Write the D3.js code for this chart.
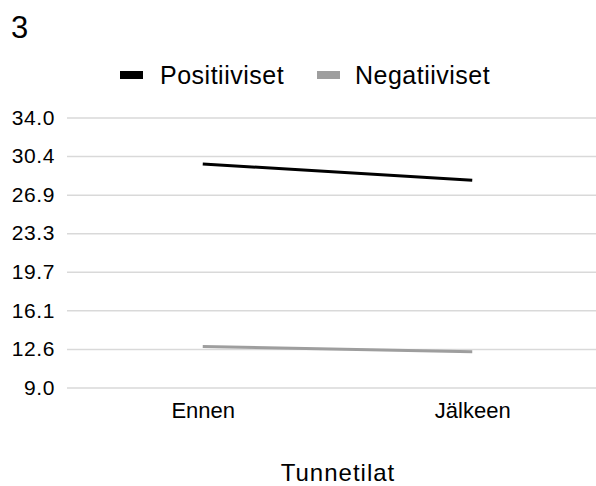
<!DOCTYPE html>
<html>
<head>
<meta charset="utf-8">
<script src="https://cdn.jsdelivr.net/npm/d3@7"></script>
<style>
  body { margin: 0; background: #fff; }
  text { font-family: "Liberation Sans", Arial, sans-serif; fill: #000; }
</style>
</head>
<body>
<svg width="596" height="486"></svg>
<script>
const categories = ['Ennen', 'Jälkeen'];
const seriesNames = ['Positiiviset', 'Negatiiviset'];
const positiiviset = [29.7, 28.2];
const negatiiviset = [12.8, 12.3];
const yTickValues = [9.0, 12.6, 16.1, 19.7, 23.3, 26.9, 30.4, 34.0];
const colors = ['#000000', '#9e9e9e'];

function whenLoaded(){
    const svg = d3.select('svg');
    const width = +svg.attr('width');
    const height = +svg.attr('height');

    const series = [positiiviset, negatiiviset];

    const xScale = d3.scalePoint()
        .domain(categories)
        .range([68, 607])
        .padding(0.5);

    const yScale = d3.scaleLinear()
        .domain([9, 34])
        .range([387.5, 117.5]);

    // gridlines
    const yAxis = d3.axisLeft(yScale)
        .tickValues(d3.range(8).map(i => 9 + i * 25 / 7))
        .tickFormat((d, i) => yTickValues[i].toFixed(1))
        .tickSize(-(width - 67))
        .tickPadding(12);

    const yAxisG = svg.append('g')
        .attr('transform', 'translate(67,0)')
        .call(yAxis);
    yAxisG.select('.domain').remove();
    yAxisG.selectAll('line')
        .attr('stroke', '#d9d9d9')
        .attr('stroke-width', 1.5);
    yAxisG.selectAll('text')
        .style('font-size', '21px')
        .style('letter-spacing', '0.6px')
        .attr('font-family', null);

    const xAxis = d3.axisBottom(xScale).tickSize(0).tickPadding(0);
    const xAxisG = svg.append('g')
        .attr('transform', 'translate(0,400)')
        .call(xAxis);
    xAxisG.select('.domain').remove();
    xAxisG.selectAll('text')
        .attr('dy', null)
        .attr('y', 18)
        .style('font-size', '22px')
        .attr('font-family', null);

    const line = d3.line()
        .x((d, i) => xScale(categories[i]))
        .y(d => yScale(d));

    svg.selectAll('.series')
        .data(series)
        .enter()
        .append('path')
        .attr('class', 'series')
        .attr('d', line)
        .attr('fill', 'none')
        .attr('stroke', (d, i) => colors[i])
        .attr('stroke-width', 3);

    // legend
    const legendX = [120, 317];
    const legend = svg.selectAll('.legend')
        .data(seriesNames)
        .enter()
        .append('g')
        .attr('class', 'legend')
        .attr('transform', (d, i) => `translate(${legendX[i]},75)`);
    legend.append('rect')
        .attr('x', 0)
        .attr('y', -4)
        .attr('width', 23)
        .attr('height', 8)
        .attr('fill', (d, i) => colors[i]);
    legend.append('text')
        .attr('x', (d, i) => i === 0 ? 40 : 38)
        .attr('y', 8.5)
        .style('font-size', '25px')
        .style('letter-spacing', '0.5px')
        .text(d => d);

    svg.append('text')
        .attr('x', 11)
        .attr('y', 38)
        .style('font-size', '31px')
        .text('3');

    svg.append('text')
        .attr('x', 338)
        .attr('y', 481)
        .attr('text-anchor', 'middle')
        .style('font-size', '24px')
        .style('letter-spacing', '1px')
        .text('Tunnetilat');
}

window.onload = whenLoaded;
</script>
</body>
</html>
